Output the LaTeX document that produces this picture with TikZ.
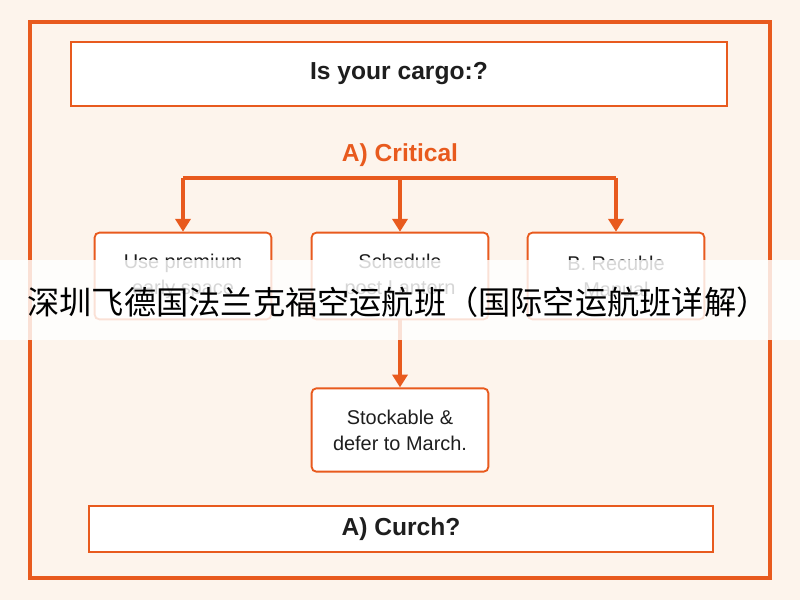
\documentclass[tikz,border=0pt]{standalone}
\usepackage{fontspec}
\setmainfont{Liberation Sans}
\newfontfamily\cjk{Noto Sans CJK SC}
\usetikzlibrary{positioning,arrows.meta}
\definecolor{orc}{RGB}{232,90,30}
\definecolor{bgc}{RGB}{253,244,236}
\definecolor{txc}{RGB}{30,30,30}
\begin{document}
\begin{tikzpicture}[x=0.3mm, y=-0.3mm, font=\fontsize{17}{22}\selectfont, text=txc,
	box/.style={rectangle, draw=orc, line width=1.6pt, rounded corners=4pt, fill=white, minimum width=53mm, minimum height=26mm, align=center},
	bar/.style={rectangle, draw=orc, line width=1.8pt, fill=white, align=center, font=\fontsize{21}{25}\selectfont\bfseries},
	link/.style={draw=orc, line width=2.6pt, -{Triangle[length=11pt,width=13pt]}},]
	 \useasboundingbox (0,0) rectangle (800,600);
	 \fill[bgc] (0,0) rectangle (800,600);
	 \draw[orc, line width=3.5pt] (30,22) rectangle (770,578);

	 \node[bar, minimum width=197mm, minimum height=19mm] (title) at (399,74) {Is your cargo:?};
	 \node[font=\fontsize{21}{25}\selectfont\bfseries, text=orc] (crit) at (400,155) {A) Critical};
	 \node[coordinate] (split) at (400,178) {};

	 \node[box] (premium) at (183,276) {Use premium\\early space};
	 \node[box] (schedule) at (400,276) {Schedule\\post Lantern};
	 \node[box] (manual) at (616,276) {B. Recuble\\Manual};
	 \node[box, minimum height=25mm] (stock) at (400,430) {Stockable \&\\defer to March.};
	 \node[bar, minimum width=187mm, minimum height=14mm] (curch) at (401,529) {A) Curch?};

	 \draw[orc, line width=2.6pt] (premium.north |- split) -- (manual.north |- split);
	 \draw[link] (split) -- (schedule);
	 \draw[link] (premium.north |- split) -- (premium);
	 \draw[link] (manual.north |- split) -- (manual);
	 \draw[link] (schedule) -- (stock);

	 % banner
	 \fill[white, opacity=0.82] (0,260) rectangle (800,340);
	 \node[font=\cjk\fontsize{27.5}{30}\selectfont, text=black] (banner) at (398,302) {深圳飞德国法兰克福空运航班（国际空运航班详解）};
\end{tikzpicture}
\end{document}
